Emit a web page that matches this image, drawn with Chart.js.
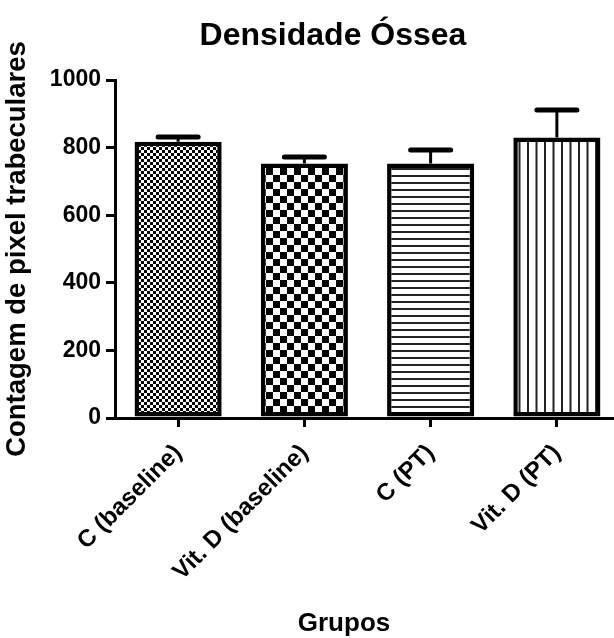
<!DOCTYPE html>
<html lang="pt">
<head>
<meta charset="UTF-8"/>
<title>Densidade Óssea</title>
<script src="https://cdn.jsdelivr.net/npm/chart.js@4.4.0/dist/chart.umd.min.js"></script>
<style>
  html, body { margin:0; padding:0; background:#fff; overflow:hidden; }
  #chart { display:block; }
</style>
</head>
<body>
<canvas id="chart" width="620" height="638"></canvas>
<script>
const groups = ['C (baseline)', 'Vit. D (baseline)', 'C (PT)', 'Vit. D (PT)'];
const means = [817, 753, 753, 830];
const sem = [14, 19, 40, 81];
const yTicks = [0, 200, 400, 600, 800, 1000];
const chartTitle = 'Densidade Óssea';
const xTitle = 'Grupos';
const yTitle = 'Contagem de pixel trabeculares';

const FONT = '"Liberation Sans", Arial, sans-serif';
const ctx = document.getElementById('chart').getContext('2d');

// fill patterns for the bars
function pattern(w, h, draw) {
  const c = document.createElement('canvas');
  c.width = w; c.height = h;
  const g = c.getContext('2d');
  g.fillStyle = '#fff';
  g.fillRect(0, 0, w, h);
  g.fillStyle = '#000';
  draw(g);
  return ctx.createPattern(c, 'repeat');
}
function checker(s) {
  return pattern(2 * s, 2 * s, g => { g.fillRect(0, 0, s, s); g.fillRect(s, s, s, s); });
}
const fills = [
  checker(3),
  checker(7),
  pattern(4, 7, g => { g.fillStyle = '#222'; g.fillRect(0, 0, 4, 2); }),
  pattern(17, 4, g => { g.fillStyle = '#222'; g.fillRect(0, 0, 2, 4); g.fillRect(8.5, 0, 2, 4); })
];

// SEM error bars (upper only)
const errorBars = {
  id: 'errorBars',
  afterDatasetsDraw(chart) {
    const y = chart.scales.y;
    const c = chart.ctx;
    chart.getDatasetMeta(0).data.forEach((bar, i) => {
      const top = y.getPixelForValue(means[i] + sem[i]);
      c.save();
      c.strokeStyle = '#000';
      c.lineWidth = 3;
      c.beginPath();
      c.moveTo(bar.x, bar.y);
      c.lineTo(bar.x, top);
      c.stroke();
      c.lineWidth = 5;
      c.lineCap = 'round';
      c.beginPath();
      c.moveTo(bar.x - 20, top);
      c.lineTo(bar.x + 20, top);
      c.stroke();
      c.restore();
    });
  }
};

// chart title and x axis title placed like the original figure
const titles = {
  id: 'titles',
  afterDraw(chart) {
    const c = chart.ctx;
    c.save();
    c.fillStyle = '#000';
    c.textAlign = 'center';
    c.textBaseline = 'alphabetic';
    c.font = 'bold 32px ' + FONT;
    c.fillText(chartTitle, 333, 45);
    c.font = 'bold 26px ' + FONT;
    c.fillText(xTitle, 344, 631);
    c.restore();
  }
};

new Chart(ctx, {
  type: 'bar',
  data: {
    labels: groups,
    datasets: [{
      data: means,
      backgroundColor: fills,
      borderColor: '#000',
      borderWidth: 4.5,
      borderSkipped: false,
      categoryPercentage: 1,
      barPercentage: 0.69
    }]
  },
  options: {
    responsive: false,
    animation: false,
    devicePixelRatio: 1,
    layout: { padding: { top: 80, left: 0, right: 0, bottom: 0 } },
    plugins: {
      legend: { display: false },
      tooltip: { enabled: false },
      title: { display: false }
    },
    scales: {
      x: {
        afterFit(scale) { scale.height = 220; },
        grid: { display: true, drawOnChartArea: false, offset: false, color: '#000', lineWidth: 3, tickLength: 9 },
        border: { display: true, color: '#000', width: 3 },
        ticks: {
          color: '#000',
          font: { family: FONT, size: 24, weight: 'bold' },
          minRotation: 45,
          maxRotation: 45,
          autoSkip: false,
          padding: 12
        }
      },
      y: {
        min: 0,
        max: 1000,
        afterFit(scale) { scale.width = 115; },
        afterBuildTicks(scale) { scale.ticks = yTicks.map(v => ({ value: v })); },
        grid: { display: true, drawOnChartArea: false, color: '#000', lineWidth: 3, tickLength: 9 },
        border: { display: true, color: '#000', width: 3 },
        ticks: {
          color: '#000',
          font: { family: FONT, size: 23, weight: 'bold' },
          padding: 5,
          callback: v => String(v)
        },
        title: {
          display: true,
          text: yTitle,
          color: '#000',
          font: { family: FONT, size: 27.5, weight: 'bold' },
          padding: { top: 1, bottom: 0 }
        }
      }
    }
  },
  plugins: [errorBars, titles]
});
</script>
</body>
</html>
